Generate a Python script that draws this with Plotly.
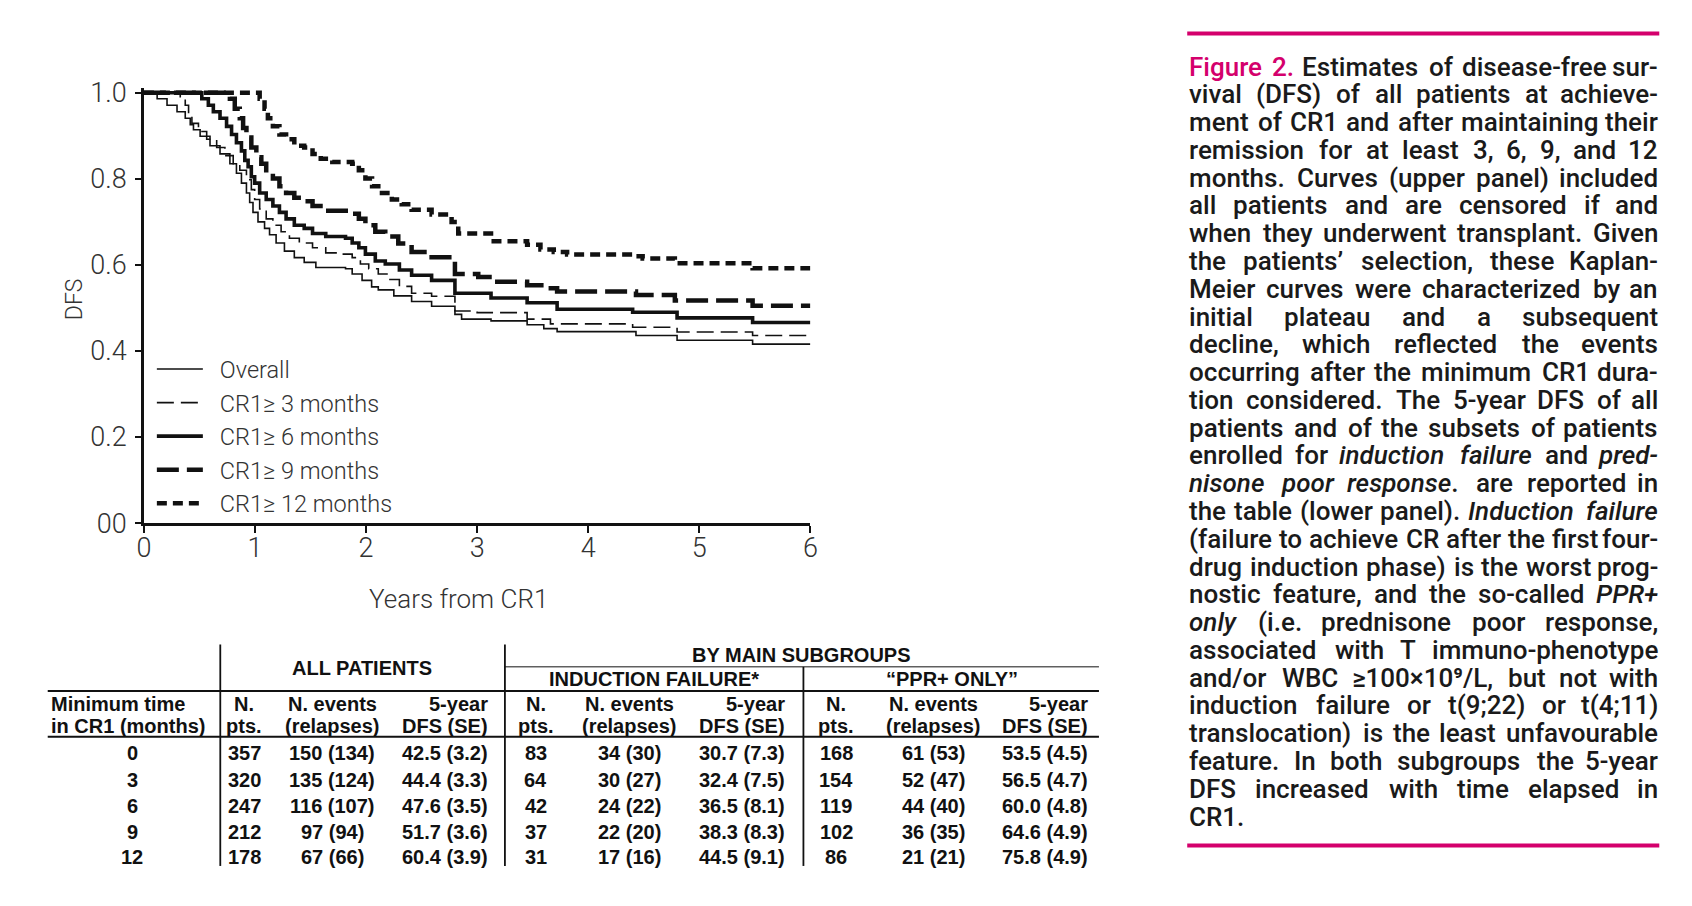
import re
import plotly.graph_objects as go

W, H = 1692, 906

# ---------------- DATA: Kaplan-Meier DFS curves (years, DFS) ----------------
series_names = ["Overall", "CR1\u2265 3 months", "CR1\u2265 6 months",
                "CR1\u2265 9 months", "CR1\u2265 12 months"]

t_overall = [0, 0.119, 0.208, 0.298, 0.372, 0.417, 0.446, 0.506, 0.595, 0.685, 0.774, 0.833,
             0.878, 0.923, 0.952, 0.982, 1.027, 1.086, 1.131, 1.19, 1.265, 1.354, 1.443, 1.548,
             1.815, 1.875, 1.964, 2.05, 2.11, 2.25, 2.41, 2.59, 2.80, 2.86, 3.125, 3.45, 3.60,
             3.72, 4.43, 4.80, 5.48, 6.0]
s_overall = [1.0, 0.986, 0.971, 0.956, 0.941, 0.926, 0.914, 0.899, 0.877, 0.858, 0.835, 0.813,
             0.790, 0.767, 0.745, 0.722, 0.700, 0.685, 0.670, 0.651, 0.632, 0.617, 0.606, 0.594,
             0.591, 0.579, 0.564, 0.549, 0.542, 0.528, 0.515, 0.504, 0.485, 0.474, 0.470, 0.461, 0.452,
             0.445, 0.436, 0.425, 0.416, 0.416]

t_cr3 = [0, 0.327, 0.372, 0.402, 0.432, 0.491, 0.565, 0.655, 0.729, 0.804, 0.863, 0.923, 0.967,
         0.997, 1.042, 1.101, 1.161, 1.235, 1.31, 1.399, 1.518, 1.637, 1.786, 1.875, 1.949, 2.024,
         2.11, 2.2, 2.3, 2.41, 2.59, 2.80, 3.0, 3.45, 3.66, 4.40, 4.80, 5.48, 6.0]
s_cr3 = [1.0, 0.989, 0.971, 0.948, 0.929, 0.910, 0.892, 0.873, 0.854, 0.835, 0.820, 0.798, 0.775,
         0.752, 0.730, 0.707, 0.692, 0.677, 0.662, 0.651, 0.640, 0.628, 0.625, 0.617, 0.602, 0.591,
         0.579, 0.566, 0.550, 0.534, 0.527, 0.493, 0.489, 0.474, 0.463, 0.455, 0.444, 0.436, 0.436]

t_cr6 = [0, 0.521, 0.58, 0.625, 0.685, 0.744, 0.789, 0.833, 0.878, 0.908, 0.938, 0.967, 0.997,
         1.042, 1.101, 1.161, 1.22, 1.28, 1.354, 1.443, 1.518, 1.637, 1.815, 1.875, 1.935, 1.994,
         2.083, 2.173, 2.3, 2.41, 2.59, 2.80, 3.125, 3.45, 3.72, 4.40, 4.80, 5.48, 6.0]
s_cr6 = [1.0, 0.986, 0.971, 0.956, 0.941, 0.922, 0.903, 0.884, 0.865, 0.843, 0.828, 0.805, 0.790,
         0.767, 0.752, 0.737, 0.722, 0.707, 0.692, 0.685, 0.673, 0.666, 0.662, 0.651, 0.640, 0.625,
         0.609, 0.602, 0.588, 0.576, 0.564, 0.534, 0.523, 0.512, 0.497, 0.490, 0.477, 0.466, 0.466]

t_cr9 = [0, 0.774, 0.818, 0.863, 0.893, 0.923, 0.967, 1.012, 1.057, 1.101, 1.161, 1.22, 1.28,
         1.354, 1.443, 1.518, 1.637, 1.875, 1.935, 1.994, 2.083, 2.173, 2.29, 2.41, 2.59, 2.80,
         3.01, 3.15, 3.45, 3.60, 3.72, 4.43, 4.78, 5.48, 6.0]
s_cr9 = [1.0, 0.986, 0.963, 0.941, 0.918, 0.896, 0.873, 0.850, 0.835, 0.820, 0.801, 0.783, 0.767,
         0.756, 0.748, 0.737, 0.726, 0.719, 0.707, 0.692, 0.677, 0.666, 0.650, 0.630, 0.618, 0.579,
         0.572, 0.561, 0.553, 0.546, 0.538, 0.530, 0.517, 0.505, 0.505]

t_cr12 = [0, 1.042, 1.086, 1.116, 1.161, 1.22, 1.28, 1.354, 1.443, 1.518, 1.592, 1.696, 1.875,
          1.935, 1.994, 2.054, 2.143, 2.232, 2.321, 2.41, 2.59, 2.77, 2.83, 3.125, 3.45, 3.57,
          3.69, 3.81, 4.40, 4.49, 4.78, 5.48, 6.0]
s_cr12 = [1.0, 0.986, 0.963, 0.941, 0.922, 0.903, 0.892, 0.877, 0.873, 0.858, 0.847, 0.839, 0.835,
          0.820, 0.801, 0.783, 0.767, 0.752, 0.741, 0.728, 0.717, 0.700, 0.673, 0.655, 0.647, 0.636,
          0.630, 0.624, 0.620, 0.615, 0.604, 0.592, 0.592]

x_ticks = [0, 1, 2, 3, 4, 5, 6]
y_ticks = [0, 0.2, 0.4, 0.6, 0.8, 1.0]
y_ticktext = ["00", "0.2", "0.4", "0.6", "0.8", "1.0"]

# ---------------- DATA: table ----------------
months = ["0", "3", "6", "9", "12"]
all_n = ["357", "320", "247", "212", "178"]
all_events = ["150 (134)", "135 (124)", "116 (107)", "97 (94)", "67 (66)"]
all_dfs = ["42.5 (3.2)", "44.4 (3.3)", "47.6 (3.5)", "51.7 (3.6)", "60.4 (3.9)"]
if_n = ["83", "64", "42", "37", "31"]
if_events = ["34 (30)", "30 (27)", "24 (22)", "22 (20)", "17 (16)"]
if_dfs = ["30.7 (7.3)", "32.4 (7.5)", "36.5 (8.1)", "38.3 (8.3)", "44.5 (9.1)"]
ppr_n = ["168", "154", "119", "102", "86"]
ppr_events = ["61 (53)", "52 (47)", "44 (40)", "36 (35)", "21 (21)"]
ppr_dfs = ["53.5 (4.5)", "56.5 (4.7)", "60.0 (4.8)", "64.6 (4.9)", "75.8 (4.9)"]

# ---------------- DATA: caption ----------------
PINK = "#d4006c"
pink_words = ["Figure", "2."]
caption_lines = [
    "Figure 2. Estimates of disease-free sur-",
    "vival (DFS) of all patients at achieve-",
    "ment of CR1 and after maintaining their",
    "remission for at least 3, 6, 9, and 12",
    "months. Curves (upper panel) included",
    "all patients and are censored if and",
    "when they underwent transplant. Given",
    "the patients\u2019 selection, these Kaplan-",
    "Meier curves were characterized by an",
    "initial plateau and a subsequent",
    "decline, which reflected the events",
    "occurring after the minimum CR1 dura-",
    "tion considered. The 5-year DFS of all",
    "patients and of the subsets of patients",
    "enrolled for <i>induction</i> <i>failure</i> and <i>pred-</i>",
    "<i>nisone</i> <i>poor</i> <i>response</i>. are reported in",
    "the table (lower panel). <i>Induction</i> <i>failure</i>",
    "(failure to achieve CR after the first four-",
    "drug induction phase) is the worst prog-",
    "nostic feature, and the so-called <i>PPR+</i>",
    "<i>only</i> (i.e. prednisone poor response,",
    "associated with T immuno-phenotype",
    "and/or WBC \u2265100\u00d710\u2079/L, but not with",
    "induction failure or t(9;22) or t(4;11)",
    "translocation) is the least unfavourable",
    "feature. In both subgroups the 5-year",
    "DFS increased with time elapsed in",
    "CR1.",
]

# ---------------- helpers ----------------
def px(x):
    return x / W


def py(y):
    return 1 - y / H


CHARTF = "Roboto, Noto Sans, sans-serif"
ARIAL = "Liberation Sans, Arial, sans-serif"
CAPF = "Roboto Medium, Roboto, Noto Sans, sans-serif"

# plot area (pixels)
X0, X6 = 130, 802
Y0, Y1 = 520, 77
YTOP = 1.012
ytop_px = Y0 - (Y0 - Y1) * YTOP

fig = go.Figure()

styles = [
    dict(width=1.6, dash="solid"),
    dict(width=1.6, dash="17px,7px"),
    dict(width=3.6, dash="solid"),
    dict(width=4.5, dash="22px,8px"),
    dict(width=4.5, dash="10px,6px"),
]
curves = [(t_overall, s_overall), (t_cr3, s_cr3), (t_cr6, s_cr6), (t_cr9, s_cr9), (t_cr12, s_cr12)]
for name, (tt, ss), st in zip(series_names, curves, styles):
    fig.add_trace(go.Scatter(
        x=tt, y=ss, mode="lines", name="\u2002" + name, line_shape="hv",
        line=dict(color="#111111", width=st["width"], dash=st["dash"]),
        hoverinfo="skip",
    ))

axis_font = dict(family=CHARTF, size=27, color="#333333", weight=300)
fig.update_layout(
    width=W, height=H,
    margin=dict(l=0, r=0, t=0, b=0),
    paper_bgcolor="white", plot_bgcolor="white",
    xaxis=dict(domain=[px(X0), px(X6)], range=[0, 6], tickvals=x_ticks,
               showgrid=False, zeroline=False, showline=True, linecolor="#111", linewidth=2.5,
               ticks="outside", ticklen=7, tickwidth=1.5, tickcolor="#111",
               tickfont=axis_font, ticklabelstandoff=-8),
    yaxis=dict(domain=[py(Y0), py(ytop_px)], range=[0, YTOP], tickvals=y_ticks,
               ticktext=y_ticktext, showgrid=False, zeroline=False, showline=True,
               linecolor="#111", linewidth=2.5, ticks="outside", ticklen=6, tickwidth=1.5,
               tickcolor="#111", tickfont=axis_font, ticklabelstandoff=3),
    showlegend=True,
    legend=dict(x=px(138), y=py(339), xanchor="left", yanchor="top",
                bgcolor="rgba(0,0,0,0)",
                font=dict(family=CHARTF, size=23.5, color="#333", weight=300),
                itemwidth=46, tracegroupgap=0, traceorder="normal"),
)

anns = []
shapes = []

# axis titles
anns.append(dict(x=px(447), y=py(598), text="Years from CR1", showarrow=False,
                 xref="paper", yref="paper", xanchor="center", yanchor="middle",
                 font=dict(family=CHARTF, size=26, color="#333", weight=300)))
anns.append(dict(x=px(60), y=py(290), text="DFS", showarrow=False, textangle=-90,
                 xref="paper", yref="paper", xanchor="center", yanchor="middle",
                 font=dict(family=CHARTF, size=23, color="#333", weight=300)))

# ---------------- table ----------------
TF = 20


def tx(x, y, text, anchor="center", size=TF):
    anns.append(dict(x=px(x), y=py(y), text=text, showarrow=False, xref="paper", yref="paper",
                     xanchor=anchor, yanchor="middle",
                     font=dict(family=ARIAL, size=size, color="#111", weight="bold")))


def hline(x0, x1, y, w):
    shapes.append(dict(type="line", xref="paper", yref="paper", x0=px(x0), x1=px(x1),
                       y0=py(y), y1=py(y), line=dict(color="#111", width=w)))


def vline(x, y0, y1, w):
    shapes.append(dict(type="line", xref="paper", yref="paper", x0=px(x), x1=px(x),
                       y0=py(y0), y1=py(y1), line=dict(color="#111", width=w)))


TL, TR = 33, 1093
V1, V2, V3 = 207, 494, 795
vline(V1, 645, 873, 1.8)
vline(V2, 645, 873, 1.8)
vline(V3, 668, 873, 1.8)
hline(V2, TR, 668, 1.0)
hline(TL, TR, 693, 2.0)
hline(TL, TR, 740, 2.0)

tx(350, 669, "ALL PATIENTS")
tx(793, 656, "BY MAIN SUBGROUPS")
tx(644, 681, "INDUCTION FAILURE*")
tx(945, 681, "\u201cPPR+ ONLY\u201d")

h1, h2 = 706, 729
tx(34, h1, "Minimum time", "left")
tx(34, h2, "in CR1 (months)", "left")
col_specs = [
    (231, "center"), (320, "center"), (479, "right"),
    (525, "center"), (620, "center"), (778, "right"),
    (828, "center"), (926, "center"), (1084, "right"),
]
for (cx, an) in col_specs[0::3]:
    tx(cx, h1, "N.", an)
    tx(cx, h2, "pts.", an)
for (cx, an) in col_specs[1::3]:
    tx(cx, h1, "N. events", an)
    tx(cx, h2, "(relapses)", an)
for (cx, an) in col_specs[2::3]:
    tx(cx, h1, "5-year", an)
    tx(cx, h2, "DFS (SE)", an)

row_y = [757, 784, 811, 838, 864]
cols = [all_n, all_events, all_dfs, if_n, if_events, if_dfs, ppr_n, ppr_events, ppr_dfs]
for i, yy in enumerate(row_y):
    tx(118, yy, months[i])
    for (cx, an), col in zip(col_specs, cols):
        tx(cx, yy, col[i], an)

# ---------------- caption (justified, word by word) ----------------
CW = {}
for ch, w in zip("abcdefghijklmnopqrstuvwxyz",
                 [.544, .561, .523, .564, .530, .347, .561, .551, .243, .239, .507, .243, .876,
                  .552, .570, .561, .568, .338, .516, .327, .551, .484, .751, .496, .473, .496]):
    CW[ch] = w
for ch, w in zip("ABCDEFGHIJKLMNOPQRSTUVWXYZ",
                 [.652, .622, .651, .656, .568, .553, .681, .713, .272, .552, .627, .538, .873,
                  .713, .688, .631, .688, .616, .593, .597, .648, .636, .887, .627, .601, .599]):
    CW[ch] = w
for ch in "0123456789":
    CW[ch] = .561
CW.update({".": .263, ",": .196, ":": .242, ";": .212, "(": .342, ")": .348, "-": .276,
           "/": .412, "\u2019": .2, "+": .566, "\u2265": .52, "\u00d7": .53, "\u2079": .36})

CAP_SIZE = 26
CAP_L, CAP_R = 1183, 1658
CAP_Y0, CAP_DY = 50, 28.6
WF = 1.03


def wwidth(word):
    plain = re.sub(r"<[^>]+>", "", word)
    return sum(CW.get(c, .55) for c in plain) * CAP_SIZE * WF


capfont = dict(family=CAPF, size=CAP_SIZE, color="#1a1a1a", weight=500)
for i, line in enumerate(caption_lines):
    yy = CAP_Y0 + i * CAP_DY
    words = line.split(" ")
    shown = [f"<span style='color:{PINK}'>{w}</span>" if (i == 0 and w in pink_words) else w
             for w in words]
    if i == len(caption_lines) - 1 or len(words) == 1:
        anns.append(dict(x=px(CAP_L), y=py(yy), text=" ".join(shown), showarrow=False,
                         xref="paper", yref="paper", xanchor="left", yanchor="middle",
                         font=capfont, borderpad=0))
        continue
    widths = [wwidth(w) for w in words]
    gap = (CAP_R - CAP_L - sum(widths)) / (len(words) - 1)
    xcur = CAP_L
    for j, (wd, wdw) in enumerate(zip(shown, widths)):
        last = j == len(words) - 1
        anns.append(dict(x=px(CAP_R if last else xcur), y=py(yy), text=wd, showarrow=False,
                         xref="paper", yref="paper", xanchor="right" if last else "left",
                         yanchor="middle", font=capfont, borderpad=0))
        xcur += wdw + gap

# pink rules
shapes.append(dict(type="line", xref="paper", yref="paper", x0=px(1182), x1=px(1658),
                   y0=py(16), y1=py(16), line=dict(color=PINK, width=4)))
shapes.append(dict(type="line", xref="paper", yref="paper", x0=px(1182), x1=px(1658),
                   y0=py(852), y1=py(852), line=dict(color=PINK, width=4)))

fig.update_layout(annotations=anns, shapes=shapes)
fig.write_html("out.html")
